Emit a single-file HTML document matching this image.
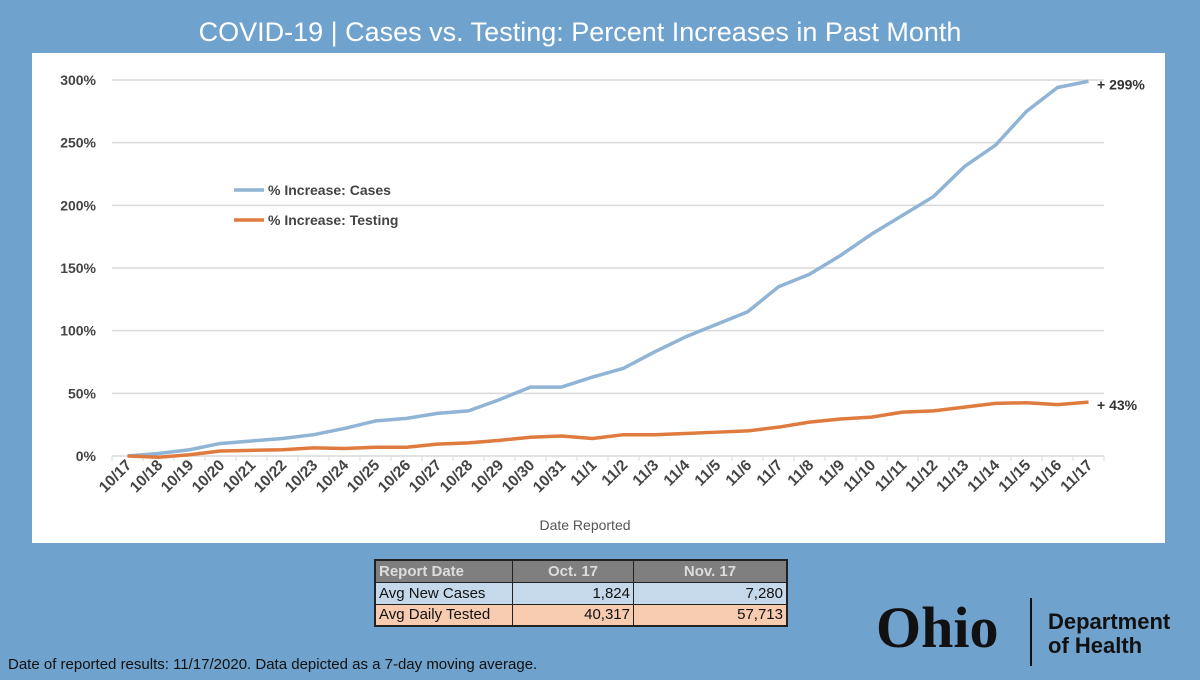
<!DOCTYPE html>
<html><head><meta charset="utf-8"><style>
body{margin:0;width:1200px;height:680px;background:#6fa2cd;font-family:"Liberation Sans",sans-serif;position:relative;overflow:hidden}
.t{position:absolute}
</style></head><body>
<div class="t" style="left:0;width:1160px;top:17px;text-align:center;color:#fff;font-size:27px">COVID-19 | Cases vs. Testing: Percent Increases in Past Month</div>
<div style="position:absolute;left:32px;top:53px;width:1133px;height:490px;background:#fff"></div>
<svg id="chart" width="1200" height="680" style="position:absolute;left:0;top:0"></svg>
<table style="position:absolute;left:374px;top:559px;border-collapse:collapse;font-size:15px;color:#111;border:2px solid #222">
<tr style="background:#7f7f7f;color:#ddd;font-weight:bold;height:22px"><td style="width:130px;padding:1px 3px;border:1px solid #222">Report Date</td><td style="width:118px;text-align:center;border:1px solid #222">Oct. 17</td><td style="width:150px;text-align:center;border:1px solid #222">Nov. 17</td></tr>
<tr style="background:#c6d9ea;height:22px"><td style="padding:1px 3px;border:1px solid #222">Avg New Cases</td><td style="text-align:right;padding-right:3px;border:1px solid #222">1,824</td><td style="text-align:right;padding-right:3px;border:1px solid #222">7,280</td></tr>
<tr style="background:#f6cbb0;height:22px"><td style="padding:1px 3px;border:1px solid #222">Avg Daily Tested</td><td style="text-align:right;padding-right:3px;border:1px solid #222">40,317</td><td style="text-align:right;padding-right:3px;border:1px solid #222">57,713</td></tr>
</table>
<div class="t" style="left:8px;top:656px;font-size:15px;color:#111">Date of reported results: 11/17/2020. Data depicted as a 7-day moving average.</div>
<div class="t" style="left:876px;top:598px;font-family:'Liberation Serif',serif;font-weight:bold;font-size:58px;color:#111;line-height:60px">Ohio</div>
<div style="position:absolute;left:1030px;top:598px;width:2px;height:68px;background:#111"></div>
<div class="t" style="left:1048px;top:610px;font-size:22px;font-weight:bold;color:#111;line-height:24px">Department<br>of Health</div>
<script>
const dates=["10/17","10/18","10/19","10/20","10/21","10/22","10/23","10/24","10/25","10/26","10/27","10/28","10/29","10/30","10/31","11/1","11/2","11/3","11/4","11/5","11/6","11/7","11/8","11/9","11/10","11/11","11/12","11/13","11/14","11/15","11/16","11/17"];
const cases=[0,2,5,10,12,14,17,22,28,30,34,36,45,55,55,63,70,83,95,105,115,135,145,160,177,192,207,231,248,275,294,299];
const testing=[0,-1,1,4,4.5,5,6.5,6,7,7,9.5,10.5,12.5,15,16,14,17,17,18,19,20,23,27,29.5,31,35,36,39,42,42.5,41,43];
const yTicks=[0,50,100,150,200,250,300];
const svg=document.getElementById('chart');const NS='http://www.w3.org/2000/svg';
const L=112,R=1104,Y0=456,Y300=80;
const x=i=>L+(R-L)/dates.length*(i+0.5);
const y=v=>Y0-(Y0-Y300)*v/300;
function mk(t,a,txt){const e=document.createElementNS(NS,t);for(const k in a)e.setAttribute(k,a[k]);if(txt!=null)e.textContent=txt;svg.appendChild(e);return e;}
yTicks.forEach(v=>{
 const g=mk('line',{x1:L,x2:R,y1:y(v),y2:y(v),stroke:'#d9d9d9','stroke-width':1.5});
 
 
 const t=mk('text',{x:96,y:y(v)+5,'text-anchor':'end','font-size':14,'font-weight':'bold',fill:'#444','font-family':'Liberation Sans'},v+'%');
 
 
});
for(let i=0;i<=dates.length;i++){const tk=mk('line',{x1:L+(R-L)/dates.length*i,x2:L+(R-L)/dates.length*i,y1:Y0,y2:Y0+5,stroke:'#d9d9d9'});
 
 }
dates.forEach((d,i)=>{const ax=x(i)+5,ay=Y0+10;const t=mk('text',{x:ax,y:ay,'text-anchor':'end','font-size':15.5,'font-weight':'bold',fill:'#444','font-family':'Liberation Sans',transform:`rotate(-45 ${ax} ${ay})`},d);
 
 });
const xt=mk('text',{x:585,y:530,'text-anchor':'middle','font-size':14,fill:'#555','font-family':'Liberation Sans'},'Date Reported');


function series(vals,col,name){const p=mk('polyline',{points:vals.map((v,i)=>x(i)+','+y(v)).join(' '),fill:'none',stroke:col,'stroke-width':3.5,'stroke-linejoin':'round'});
 
 }
series(cases,'#8fb4d6','cases-line');
series(testing,'#e07b40','testing-line');
const l1=mk('text',{x:1097,y:y(cases[cases.length-1])+8,'font-size':14,'font-weight':'bold',fill:'#333','font-family':'Liberation Sans'},'+ '+cases[cases.length-1]+'%');


const l2=mk('text',{x:1097,y:y(testing[testing.length-1])+8,'font-size':14,'font-weight':'bold',fill:'#333','font-family':'Liberation Sans'},'+ '+testing[testing.length-1]+'%');


[['% Increase: Cases','#8fb4d6',190],['% Increase: Testing','#e07b40',220]].forEach(([n,c,yy])=>{
 const ln=mk('line',{x1:234,x2:264,y1:yy,y2:yy,stroke:c,'stroke-width':3.5});
 
 
 const t=mk('text',{x:268,y:yy+5,'font-size':14,'font-weight':'bold',fill:'#444','font-family':'Liberation Sans'},n);
 
 
});
</script>
</body></html>
